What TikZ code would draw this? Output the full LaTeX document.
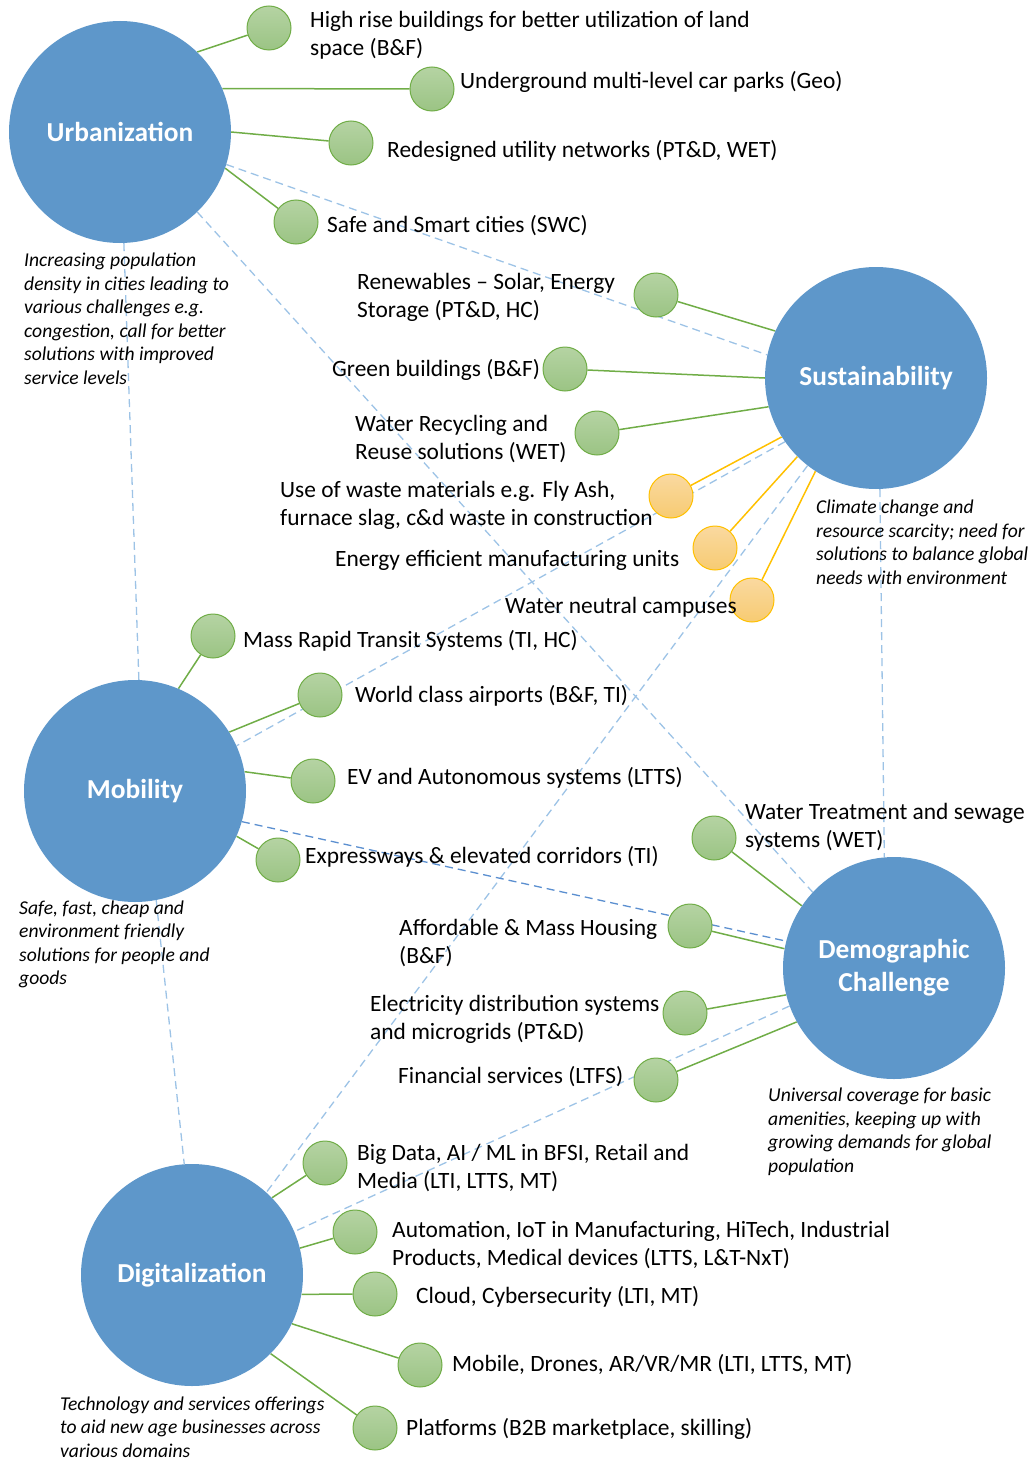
\documentclass[tikz,border=0pt]{standalone}
\usepackage{fontspec}
\setmainfont{Carlito}
\usepackage{tikz}
\usetikzlibrary{positioning, calc, backgrounds}
\definecolor{Hub}{HTML}{5E97CA}
\definecolor{LightBlue}{HTML}{9DC3E6}
\definecolor{MidBlue}{HTML}{5B8FD0}
\definecolor{Green}{HTML}{70AD47}
\definecolor{GreenTop}{HTML}{B5D3A3}
\definecolor{GreenBot}{HTML}{9BC484}
\definecolor{Amber}{HTML}{FFC000}
\definecolor{AmberTop}{HTML}{FAD9A0}
\definecolor{AmberBot}{HTML}{F7CB72}
\tikzset{
  hub/.style={circle, fill=Hub, inner sep=0pt, minimum size=222pt, align=center,
              text=white, font=\fontsize{27.4}{33}\selectfont\bfseries},
  leaf/.style={circle, draw=Green, line width=1pt, top color=GreenTop, bottom color=GreenBot,
               inner sep=0pt, minimum size=44pt},
  leafo/.style={leaf, draw=Amber, top color=AmberTop, bottom color=AmberBot},
  txt/.style={anchor=west, align=left, inner sep=0pt, font=\fontsize{23.4}{28}\selectfont},
  note/.style={anchor=west, align=left, inner sep=0pt, font=\fontsize{19.6}{23.5}\selectfont\itshape}
}

\begin{document}
\begin{tikzpicture}[x=1pt, y=-1pt,
  lnk/.style={Green, line width=1.5pt},
  lnko/.style={Amber, line width=1.5pt},
  dsh/.style={LightBlue, line width=1.3pt, dash pattern=on 8pt off 5pt}]
  \useasboundingbox (0,0) rectangle (1030,1461);
  \node[hub] (urb) at (120,132) {Urbanization};
  \node[hub] (sus) at (876,378) {Sustainability};
  \node[hub] (mob) at (135,791) {Mobility};
  \node[hub] (dem) at (894,968) {Demographic\\Challenge};
  \node[hub] (dig) at (192,1275) {Digitalization};

  \node[leaf] (hr) at (269,28) {};
  \node[leaf] (ug) at (432,89) {};
  \node[leaf] (rd) at (351,143) {};
  \node[leaf] (sc) at (296,222) {};
  \node[leaf] (ren) at (656,295) {};
  \node[leaf] (gb) at (565,369) {};
  \node[leaf] (wr) at (597,433) {};
  \node[leafo] (wm) at (671,496) {};
  \node[leafo] (ee) at (715,548) {};
  \node[leafo] (wn) at (752,600) {};
  \node[leaf] (mrt) at (213,636) {};
  \node[leaf] (air) at (320,695) {};
  \node[leaf] (ev) at (313,781) {};
  \node[leaf] (exp) at (278,860) {};
  \node[leaf] (wt) at (714,838) {};
  \node[leaf] (aff) at (690,926) {};
  \node[leaf] (el) at (685,1013) {};
  \node[leaf] (fin) at (656,1080) {};
  \node[leaf] (bd) at (325,1163) {};
  \node[leaf] (aut) at (355,1232) {};
  \node[leaf] (cld) at (375,1294) {};
  \node[leaf] (mbl) at (420,1365) {};
  \node[leaf] (plt) at (375,1428) {};

  \node[txt] (hrT) at (310,35) {High rise buildings for better utilization of land\\space (B\&F)};
  \node[txt] (ugT) at (460,82) {Underground multi-level car parks (Geo)};
  \node[txt] (rdT) at (387,151) {Redesigned utility networks (PT\&D, WET)};
  \node[txt] (scT) at (327,226) {Safe and Smart cities (SWC)};
  \node[txt] (renT) at (357,297.5) {Renewables -- Solar, Energy\\Storage (PT\&D, HC)};
  \node[txt] (gbT) at (332,370) {Green buildings (B\&F)};
  \node[txt] (wrT) at (355,439) {Water Recycling and\\Reuse solutions (WET)};
  \node[txt] (wmT) at (280,505.5) {Use of waste materials e.g. Fly Ash,\\furnace slag, c\&d waste in construction};
  \node[txt] (eeT) at (335,560) {Energy efficient manufacturing units};
  \node[txt] (wnT) at (505,607) {Water neutral campuses};
  \node[txt] (mrtT) at (243,641) {Mass Rapid Transit Systems (TI, HC)};
  \node[txt] (airT) at (355,696) {World class airports (B\&F, TI)};
  \node[txt] (evT) at (347,778) {EV and Autonomous systems (LTTS)};
  \node[txt] (expT) at (305,857) {Expressways \& elevated corridors (TI)};
  \node[txt] (wtT) at (745,827) {Water Treatment and sewage\\systems (WET)};
  \node[txt] (affT) at (399,943) {Affordable \& Mass Housing\\(B\&F)};
  \node[txt] (elT) at (370,1019) {Electricity distribution systems\\and microgrids (PT\&D)};
  \node[txt] (finT) at (398,1077) {Financial services (LTFS)};
  \node[txt] (bdT) at (357,1168) {Big Data, AI / ML in BFSI, Retail and\\Media (LTI, LTTS, MT)};
  \node[txt] (autT) at (392,1245) {Automation, IoT in Manufacturing, HiTech, Industrial\\Products, Medical devices (LTTS, L\&T-NxT)};
  \node[txt] (cldT) at (416,1297) {Cloud, Cybersecurity (LTI, MT)};
  \node[txt] (mblT) at (452,1365) {Mobile, Drones, AR/VR/MR (LTI, LTTS, MT)};
  \node[txt] (pltT) at (406,1429) {Platforms (B2B marketplace, skilling)};

  \node[note] (urbN) at (24,319) {Increasing population\\density in cities leading to\\various challenges e.g.\\congestion, call for better\\solutions with improved\\service levels};
  \node[note] (susN) at (816,542.5) {Climate change and\\resource scarcity; need for\\solutions to balance global\\needs with environment};
  \node[note] (mobN) at (19,944.5) {Safe, fast, cheap and\\environment friendly\\solutions for people and\\goods};
  \node[note] (demN) at (768,1132) {Universal coverage for basic\\amenities, keeping up with\\growing demands for global\\population};
  \node[note] (digN) at (60,1427) {Technology and services offerings\\to aid new age businesses across\\various domains};

  \begin{scope}[on background layer]
    \draw[dsh] (urb.-17) -- (sus.168);
    \draw[dsh] (urb.-46) -- (dem.137);
    \draw[dsh] (urb.-88) -- (mob.88);
    \draw[dsh] (sus.-88) -- (dem.95);
    \draw[dsh] (sus.215) -- (mob.24);
    \draw[dsh] (sus.232) -- (dig.48);
    \draw[dsh,MidBlue] (mob.-16) -- (dem.166);
    \draw[dsh] (dem.200) -- (dig.23);
    \draw[dsh] (mob.-79) -- (dig.94);

    \draw[lnk] (urb.46) -- (hr);
    \draw[lnk] (urb.23) -- (ug);
    \draw[lnk] (urb.0) -- (rd);
    \draw[lnk] (urb.-19) -- (sc);
    \draw[lnk] (sus.155) -- (ren);
    \draw[lnk] (sus.180) -- (gb);
    \draw[lnk] (sus.195) -- (wr);
    \draw[lnko] (sus.212) -- (wm);
    \draw[lnko] (sus.225) -- (ee);
    \draw[lnko] (sus.237) -- (wn);
    \draw[lnk] (mob.67) -- (mrt);
    \draw[lnk] (mob.32) -- (air);
    \draw[lnk] (mob.10) -- (ev);
    \draw[lnk] (mob.-24) -- (exp);
    \draw[lnk] (dem.146) -- (wt);
    \draw[lnk] (dem.170) -- (aff);
    \draw[lnk] (dem.194) -- (el);
    \draw[lnk] (dem.209) -- (fin);
    \draw[lnk] (dig.44) -- (bd);
    \draw[lnk] (dig.14) -- (aut);
    \draw[lnk] (dig.-10) -- (cld);
    \draw[lnk] (dig.-26) -- (mbl);
    \draw[lnk] (dig.-45) -- (plt);
  \end{scope}
\end{tikzpicture}
\end{document}
